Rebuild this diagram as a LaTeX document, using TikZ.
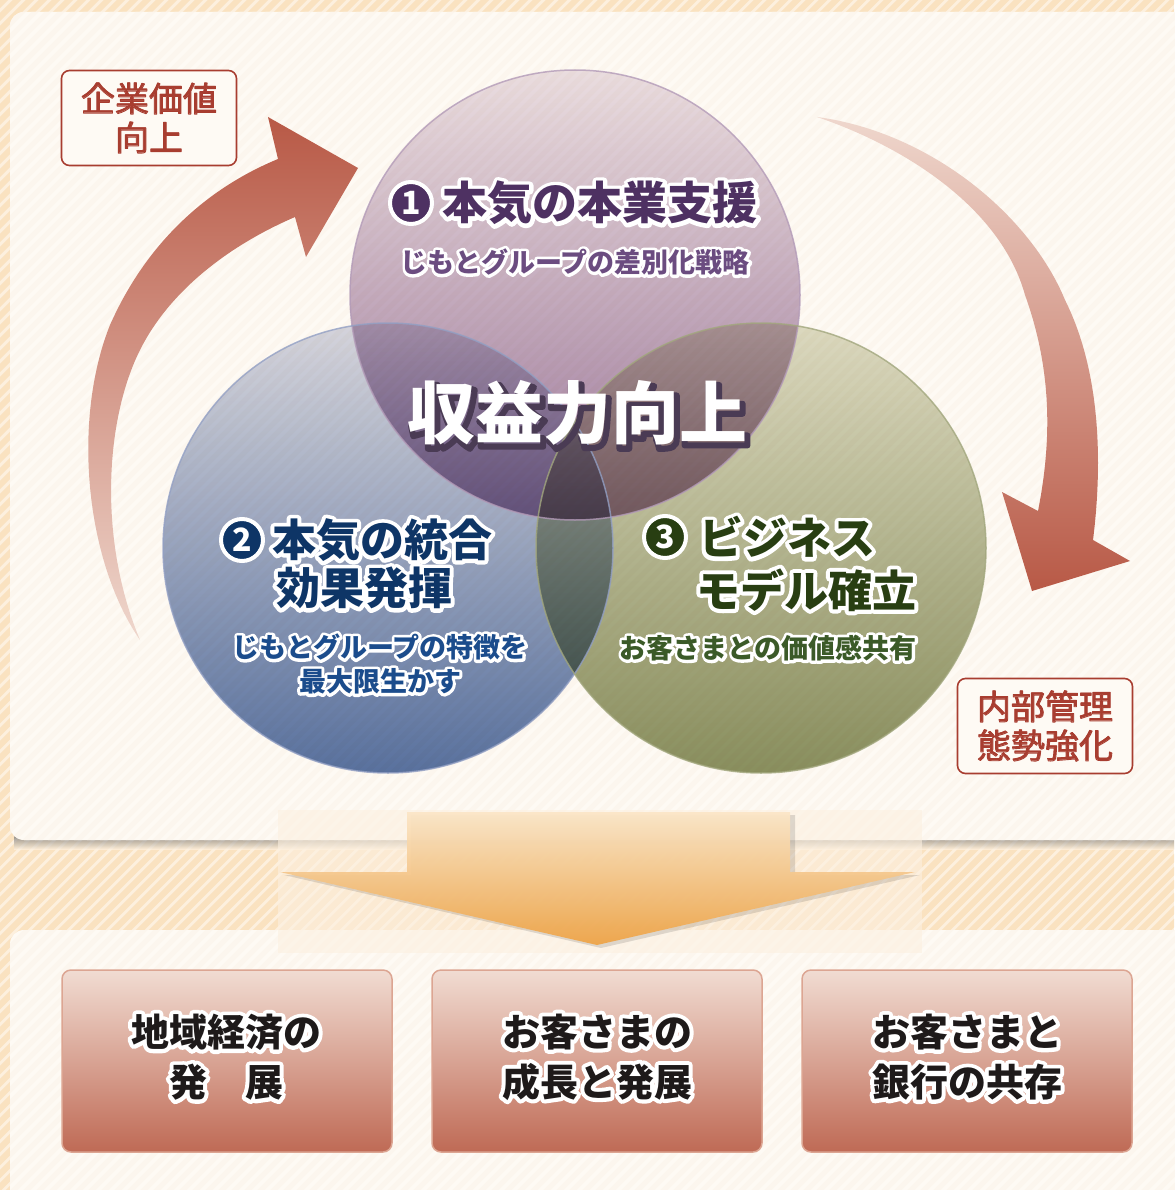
\documentclass[tikz,border=0pt]{standalone}
\usepackage{fontspec}
\newfontfamily\jp{Noto Sans CJK JP}
\usetikzlibrary{calc}
\definecolor{bgbase}{HTML}{FDF0DE}
\definecolor{bgstripe}{HTML}{FAE2C0}
\definecolor{panel}{HTML}{FEFAF4}
\definecolor{panelstripe}{HTML}{FCF6EE}
\definecolor{pTop}{HTML}{EBE2EA}
\definecolor{pBot}{HTML}{9E7BA2}
\definecolor{pEdge}{HTML}{B39BB8}
\definecolor{bTop}{HTML}{D6D9E6}
\definecolor{bBot}{HTML}{5A74A6}
\definecolor{bEdge}{HTML}{93A0C4}
\definecolor{gTop}{HTML}{DDDEC9}
\definecolor{gBot}{HTML}{8A9263}
\definecolor{gEdge}{HTML}{A2A77E}
\definecolor{pText}{HTML}{4E3162}
\definecolor{pSub}{HTML}{6B4C80}
\definecolor{bText}{HTML}{0E3566}
\definecolor{bSub}{HTML}{1B4C8C}
\definecolor{gText}{HTML}{283E12}
\definecolor{gSub}{HTML}{3B5A28}
\definecolor{lblc}{HTML}{A83D30}
\definecolor{arrDark}{HTML}{B85946}
\definecolor{arrMid}{HTML}{D19282}
\definecolor{arrLight}{HTML}{EFD7CD}
\definecolor{boxTop}{HTML}{F1DCD2}
\definecolor{boxBot}{HTML}{BF6A55}
\definecolor{boxEdge}{HTML}{DCA592}
\definecolor{orTop}{HTML}{FBE6C8}
\definecolor{orBot}{HTML}{EEA447}
\definecolor{shadowc}{HTML}{4A3B54}
\definecolor{bottext}{HTML}{1E1A1A}
\definecolor{ovlc}{HTML}{FCF0E0}

\newbox\halobox
% white outline drawn as a stroked copy (PDF text render mode 1)
\newcommand\halo[2][7]{{\setbox\halobox\hbox{#2}\leavevmode\rlap{\color{white}\special{pdf:literal direct #1 w 1 J 1 j 1 Tr}\copy\halobox\special{pdf:literal direct 0 Tr}}\copy\halobox}}
% slightly heavier strokes in the text colour
\newcommand\thicken[1]{{\setbox\halobox\hbox{#1}\leavevmode\rlap{\special{pdf:literal direct 0.9 w 1 J 1 j 1 Tr}\copy\halobox\special{pdf:literal direct 0 Tr}}\copy\halobox}}
% offset dark outline as a drop shadow
\newcommand\shadowed[1]{{\setbox\halobox\hbox{#1}\leavevmode\hbox{\rlap{\kern3pt\raise-3.5pt\hbox{\color{shadowc}\special{pdf:literal direct 6 w 1 J 1 j 1 Tr}\copy\halobox\special{pdf:literal direct 0 Tr}}}\copy\halobox}}}

\begin{document}
\begin{tikzpicture}[x=1pt,y=-1pt,
  ttl/.style={font=\jp\bfseries\fontsize{45}{50}\selectfont, inner sep=0pt},
  hd/.style={font=\jp\bfseries\fontsize{44}{50}\selectfont, inner sep=0pt},
  sub/.style={font=\jp\bfseries\fontsize{27}{34}\selectfont, inner sep=0pt, align=center},
  numc/.style={circle, draw=white, line width=4pt, minimum size=42pt, inner sep=0pt, text=white, font=\jp\bfseries\fontsize{32}{32}\selectfont},
  lbl/.style={draw=lblc, line width=1.6pt, rounded corners=8pt, fill=panel, minimum width=175pt, minimum height=95pt, inner sep=0pt, align=center, text=lblc, font=\jp\fontsize{34}{39}\selectfont},
  botbox/.style={rounded corners=9pt, draw=boxEdge, line width=1.5pt, top color=boxTop, bottom color=boxBot, minimum width=330pt, minimum height=182pt, inner sep=0pt},
  bottxt/.style={font=\jp\bfseries\fontsize{38}{50}\selectfont, text=bottext, align=center, inner sep=0pt},
  coretxt/.style={font=\jp\bfseries\fontsize{68}{70}\selectfont, text=white, inner sep=0pt}
]
\useasboundingbox (0,0) rectangle (1174,1190);
% background stripes
\fill[bgbase] (0,0) rectangle (1174,1190);
\begin{scope}
  \clip (0,0) rectangle (1174,1190);
  \foreach \i in {-1300,-1287,...,1200} \draw[bgstripe, line width=6pt] (\i,1200) -- ++(1300,-1300);
\end{scope}
% panel shadow
\shade[top color=black!55, bottom color=bgbase, opacity=.7] (14,836) rectangle (1174,849);
% panels
\fill[panel, rounded corners=14pt] (10,12) rectangle (1190,840);
\fill[panel, rounded corners=14pt] (10,930) rectangle (1190,1220);
\begin{scope}
  \clip[rounded corners=14pt] (10,12) rectangle (1190,840) (10,930) rectangle (1190,1220);
  \foreach \i in {-1300,-1287,...,1200} \draw[panelstripe, line width=5pt] (\i,1230) -- ++(1300,-1300);
\end{scope}

% curved arrows
\shade[top color=arrDark, middle color=arrMid, bottom color=arrLight]
  (140,640) .. controls (85,560) and (72,420) .. (110,325)
  .. controls (150,235) and (215,185) .. (278,159)
  -- (268,117) -- (358,168) -- (306,257) -- (295,217)
  .. controls (230,245) and (170,290) .. (140,350)
  .. controls (105,420) and (98,540) .. (140,640) -- cycle;
\shade[top color=arrLight, middle color=arrMid, bottom color=arrDark]
  (817,117) .. controls (930,132) and (1030,215) .. (1065,300)
  .. controls (1100,370) and (1103,460) .. (1093,540)
  -- (1130,561) -- (1032,591) -- (1002,492) -- (1038,511)
  .. controls (1052,440) and (1052,370) .. (1025,295)
  .. controls (1000,205) and (900,145) .. (817,117) -- cycle;

% circles
\begin{scope}[blend mode=multiply]
  \shade[top color=pTop, bottom color=pBot] (575,295) circle[radius=225];
  \shade[top color=bTop, bottom color=bBot] (388,548) circle[radius=225];
  \shade[top color=gTop, bottom color=gBot] (761,548) circle[radius=225];
\end{scope}
\draw[pEdge, line width=1.5pt, opacity=.8] (575,295) circle[radius=225];
\draw[bEdge, line width=1.5pt, opacity=.8] (388,548) circle[radius=225];
\draw[gEdge, line width=1.5pt, opacity=.8] (761,548) circle[radius=225];

% circle texts
\node[ttl, text=pText] (t1) at (600,203) {\halo[8]{本気の本業支援}};
\node[numc, fill=pText] (n1) at (411,203) {1};
\node[sub, text=pSub] (s1) at (575,262) {\halo[6]{じもとグループの差別化戦略}};

\node[hd, text=bText] (t2a) at (382,540) {\halo[8]{本気の統合}};
\node[hd, text=bText] (t2b) at (364,588) {\halo[8]{効果発揮}};
\node[numc, fill=bText] (n2) at (242,540) {2};
\node[sub, text=bSub] (s2) at (380,664) {\halo[6]{じもとグループの特徴を}\\\halo[6]{最大限生かす}};

\node[hd, text=gText] (t3a) at (787,537) {\halo[8]{ビジネス}};
\node[hd, text=gText] (t3b) at (806,590) {\halo[8]{モデル確立}};
\node[numc, fill=gText] (n3) at (665,537) {3};
\node[sub, text=gSub] (s3) at (768,648) {\halo[6]{お客さまとの価値感共有}};

\node[coretxt] (core) at (577,415) {\shadowed{収益力向上}};

% side labels
\node[lbl] (l1) at (149,118) {\thicken{企業価値}\\\thicken{向上}};
\node[lbl] (l2) at (1045,726) {\thicken{内部管理}\\\thicken{態勢強化}};

% down arrow
\fill[ovlc, opacity=.6] (278,810) rectangle (922,953);
\fill[black, opacity=.12] (411,815) -- (795,815) -- (795,875) -- (920,875) -- (601,948) -- (284,875) -- (411,875) -- cycle;
\shade[top color=orTop, bottom color=orBot, opacity=.95] (407,812) -- (790,812) -- (790,872) -- (915,872) -- (597,945) -- (280,872) -- (407,872) -- cycle;

% bottom boxes
\node[botbox] (b1) at (227,1061) {};
\node[botbox] (b2) at (597,1061) {};
\node[botbox] (b3) at (967,1061) {};
\node[bottxt] (b1t) at (226,1057) {\halo[8]{地域経済の}\\\halo[8]{発　展}};
\node[bottxt] (b2t) at (597,1057) {\halo[8]{お客さまの}\\\halo[8]{成長と発展}};
\node[bottxt] (b3t) at (967,1057) {\halo[8]{お客さまと}\\\halo[8]{銀行の共存}};
\end{tikzpicture}
\end{document}
